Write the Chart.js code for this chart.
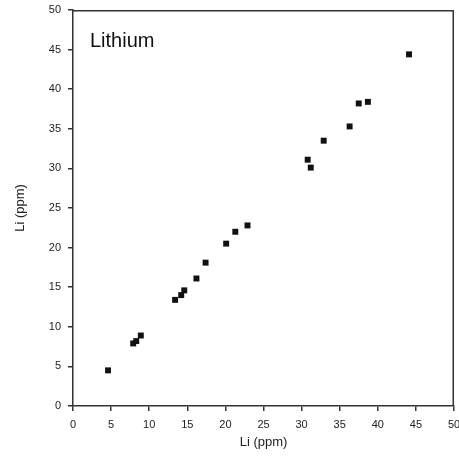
<!DOCTYPE html>
<html>
<head>
<meta charset="utf-8">
<script src="https://cdn.jsdelivr.net/npm/chart.js@4/dist/chart.umd.min.js"></script>
<style>
  html, body { margin: 0; padding: 0; background: #fff; }
  #wrap { width: 459px; height: 458px; }
</style>
</head>
<body>
<div id="wrap"><canvas id="chart" width="459" height="458"></canvas></div>
<script>
  const liX = [4.6, 7.9, 8.3, 8.9, 13.4, 14.2, 14.6, 16.2, 17.4, 20.1, 21.3, 22.9, 30.8, 31.2, 32.9, 36.3, 37.5, 38.7, 44.1];
  const liY = [4.5, 7.9, 8.2, 8.9, 13.4, 14.0, 14.6, 16.1, 18.1, 20.5, 22.0, 22.8, 31.1, 30.1, 33.5, 35.3, 38.2, 38.4, 44.4];
  const axisMin = 0;
  const axisMax = 50;
  const tickStep = 5;
  const panelLabel = "Lithium";
  const axisTitle = "Li (ppm)";

  const points = liX.map((x, i) => ({ x, y: liY[i] }));
  const font = "'Liberation Sans', Arial, sans-serif";

  const frame = {
    id: "frame",
    afterDraw(chart) {
      const { ctx, chartArea: a } = chart;
      ctx.save();
      ctx.strokeStyle = "#333";
      ctx.lineWidth = 1.5;
      ctx.beginPath();
      ctx.moveTo(a.left, a.top + 0.75);
      ctx.lineTo(a.right - 0.75, a.top + 0.75);
      ctx.lineTo(a.right - 0.75, a.bottom);
      ctx.stroke();
      ctx.fillStyle = "#111";
      ctx.font = "20px " + font;
      ctx.textBaseline = "alphabetic";
      ctx.fillText(panelLabel, a.left + 17, a.top + 37);
      ctx.restore();
    }
  };

  const scaleBase = (pos) => ({
    type: "linear",
    position: pos,
    min: axisMin,
    max: axisMax,
    grid: { display: true, drawOnChartArea: false, drawTicks: true, tickLength: 5, color: "#333", lineWidth: 1.5 },
    border: { display: true, color: "#333", width: 1.5 },
    ticks: { stepSize: tickStep, color: "#222", font: { family: font, size: 11 }, padding: 7 },
    title: { display: true, text: axisTitle, color: "#222", font: { family: font, size: 13 } }
  });

  const xScale = scaleBase("bottom");
  xScale.afterFit = (s) => { s.height = 52; s.paddingLeft = 0; s.paddingRight = 0; };
  xScale.title.padding = { top: 0, bottom: 8 };
  const yScale = scaleBase("left");
  yScale.afterFit = (s) => { s.width = 73; s.paddingTop = 0; s.paddingBottom = 0; };
  yScale.title.padding = { top: 12.5, bottom: 0 };

  new Chart(document.getElementById("chart"), {
    type: "scatter",
    data: {
      datasets: [{
        data: points,
        pointStyle: "rect",
        pointRadius: 4.2,
        pointBorderWidth: 0,
        backgroundColor: "#111",
        borderColor: "#111"
      }]
    },
    options: {
      responsive: false,
      animation: false,
      layout: { padding: { top: 10, right: 5, left: 0, bottom: 0 } },
      plugins: { legend: { display: false }, tooltip: { enabled: false } },
      scales: { x: xScale, y: yScale }
    },
    plugins: [frame]
  });
</script>
</body>
</html>
